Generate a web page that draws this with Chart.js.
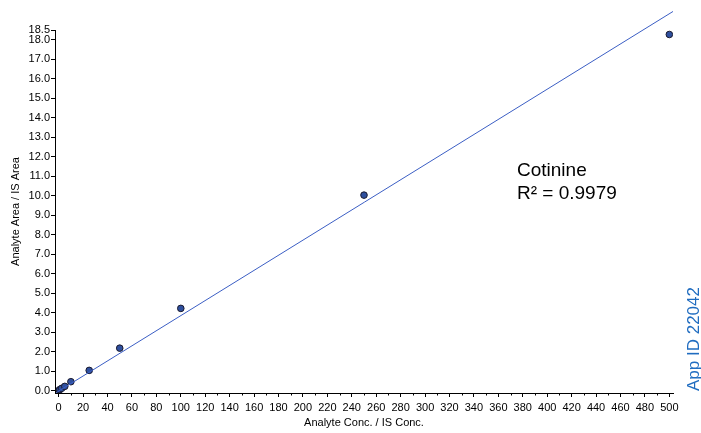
<!DOCTYPE html>
<html>
<head>
<meta charset="utf-8">
<script src="https://cdn.jsdelivr.net/npm/chart.js@4/dist/chart.umd.min.js"></script>
<style>
  html, body { margin: 0; padding: 0; background: #fff; }
  #wrap { width: 701px; height: 433px; position: relative; }
</style>
</head>
<body>
<div id="wrap"><canvas id="grafico"></canvas></div>
<script>
// calibration points
const concX = [0.5, 1, 2.5, 5, 10, 25, 50, 100, 250, 500];
const ratioY = [0.03, 0.06, 0.12, 0.22, 0.46, 1.04, 2.18, 4.22, 10.03, 18.27];

// fitted line endpoints
const fitX = [-2, 503];
const fitY = [-0.1, 19.45];

const xTicks = [0, 20, 40, 60, 80, 100, 120, 140, 160, 180, 200, 220, 240, 260, 280, 300, 320, 340, 360, 380, 400, 420, 440, 460, 480, 500];
const xMinor = [10, 30, 50, 70, 90, 110, 130, 150, 170, 190, 210, 230, 250, 270, 290, 310, 330, 350, 370, 390, 410, 430, 450, 470, 490];
const yTicks = [0, 1, 2, 3, 4, 5, 6, 7, 8, 9, 10, 11, 12, 13, 14, 15, 16, 17, 18, 18.5];

const FONT = "'Liberation Sans', Arial, sans-serif";

// minor ticks + texto
const extras = {
  id: "extras",
  afterDraw(chart) {
    const { ctx, scales } = chart;
    const x = scales.x;
    const yb = x.top;
    ctx.save();
    ctx.strokeStyle = "#000";
    ctx.lineWidth = 1;
    xMinor.forEach(v => {
      const px = Math.round(x.getPixelForValue(v)) + 0.5;
      ctx.beginPath();
      ctx.moveTo(px, yb);
      ctx.lineTo(px, yb + 2.5);
      ctx.stroke();
    });

    ctx.fillStyle = "#000";
    ctx.font = "19px " + FONT;
    ctx.textBaseline = "alphabetic";
    ctx.fillText("Cotinine", 517, 176);
    ctx.fillText("R² = 0.9979", 517, 199);

    ctx.translate(699, 391);
    ctx.rotate(-Math.PI / 2);
    ctx.fillStyle = "#1f6cc0";
    ctx.font = "17px " + FONT;
    ctx.fillText("App ID 22042", 0, 0);
    ctx.restore();
  }
};

new Chart(document.getElementById("grafico"), {
  type: "scatter",
  data: {
    datasets: [
      {
        type: "line",
        data: fitX.map((v, i) => ({ x: v, y: fitY[i] })),
        borderColor: "#3b5ec4",
        borderWidth: 1,
        pointRadius: 0,
        fill: false,
        clip: false
      },
      {
        data: concX.map((v, i) => ({ x: v, y: ratioY[i] })),
        backgroundColor: "#2e4f9e",
        borderColor: "#1a1a2e",
        borderWidth: 1,
        pointRadius: 3.3
      }
    ]
  },
  options: {
    responsive: true,
    maintainAspectRatio: false,
    animation: false,
    layout: { padding: { left: 0, right: 28, top: 30, bottom: 3 } },
    plugins: { legend: { display: false }, tooltip: { enabled: false } },
    scales: {
      x: {
        type: "linear",
        min: -3,
        max: 503,
        afterBuildTicks: s => { s.ticks = xTicks.map(v => ({ value: v })); },
        afterFit: s => { s.height = 37; },
        grid: { drawOnChartArea: false, drawTicks: true, tickLength: 4, color: "#000" },
        border: { display: true, color: "#000", width: 1 },
        ticks: { color: "#000", font: { family: FONT, size: 11 }, padding: 4, maxRotation: 0, autoSkip: false },
        title: { display: true, text: "Analyte Conc. / IS Conc.", color: "#000", font: { family: FONT, size: 11 }, padding: { top: 4, bottom: 0 } }
      },
      y: {
        type: "linear",
        min: -0.12,
        max: 18.5,
        afterBuildTicks: s => { s.ticks = yTicks.map(v => ({ value: v })); },
        afterFit: s => { s.width = 55; },
        grid: { drawOnChartArea: false, drawTicks: true, tickLength: 4, color: "#000" },
        border: { display: true, color: "#000", width: 1 },
        ticks: { color: "#000", font: { family: FONT, size: 11 }, padding: 1, autoSkip: false, callback: v => v.toFixed(1) },
        title: { display: true, text: "Analyte Area / IS Area", color: "#000", font: { family: FONT, size: 11 }, padding: { top: 9, bottom: 4 } }
      }
    }
  },
  plugins: [extras]
});
</script>
</body>
</html>
